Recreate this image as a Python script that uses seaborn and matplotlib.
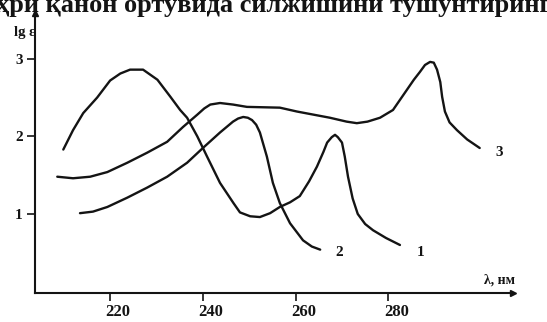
import pandas as pd
import matplotlib
matplotlib.use("Agg")
import matplotlib.pyplot as plt
import matplotlib.transforms as mtransforms
import seaborn as sns

# UV absorption curves (wavelength, nm -> lg eps)
wl1 = [209.9, 212.0, 214.2, 217.2, 220.0, 222.2, 224.3, 227.1, 230.2, 233.0, 235.1, 236.6,
       238.8, 240.9, 243.7, 246.6, 248.0, 250.2, 252.3, 254.5, 256.6, 258.8, 260.9, 262.9,
       264.6, 266.0, 266.8, 267.8, 268.5, 269.1, 270.0, 270.6, 271.3, 272.3, 273.4, 275.0,
       276.7, 279.5, 282.5]
lg1 = [1.83, 2.08, 2.30, 2.50, 2.72, 2.81, 2.86, 2.86, 2.73, 2.51, 2.34, 2.24,
       2.00, 1.74, 1.40, 1.14, 1.02, 0.97, 0.96, 1.01, 1.09, 1.15, 1.23, 1.42,
       1.61, 1.80, 1.92, 1.99, 2.02, 1.99, 1.92, 1.74, 1.48, 1.20, 1.00, 0.87,
       0.79, 0.69, 0.60]

wl2 = [213.5, 216.3, 219.4, 223.7, 228.0, 232.3, 236.6, 240.0, 243.7, 246.5, 247.6, 248.7,
       249.7, 250.6, 251.5, 252.3, 253.8, 255.1, 256.6, 258.8, 261.6, 263.5, 265.3]
lg2 = [1.01, 1.03, 1.09, 1.21, 1.34, 1.48, 1.66, 1.85, 2.05, 2.19, 2.23, 2.25,
       2.24, 2.21, 2.15, 2.05, 1.74, 1.40, 1.14, 0.88, 0.66, 0.58, 0.54]

wl3 = [208.6, 212.0, 215.7, 219.4, 223.7, 228.0, 232.3, 235.7, 238.8, 240.3, 241.6, 243.7,
       246.5, 249.5, 256.6, 260.3, 267.4, 271.0, 273.2, 275.5, 278.2, 281.0, 284.0, 285.5,
       286.8, 287.9, 289.0, 289.8, 290.5, 291.2, 291.6, 292.2, 293.2, 294.8, 297.0, 299.7]
lg3 = [1.48, 1.46, 1.48, 1.54, 1.66, 1.79, 1.93, 2.12, 2.28, 2.36, 2.41, 2.43,
       2.41, 2.38, 2.37, 2.32, 2.24, 2.19, 2.17, 2.19, 2.24, 2.34, 2.60, 2.73,
       2.83, 2.92, 2.96, 2.95, 2.86, 2.70, 2.51, 2.32, 2.18, 2.08, 1.96, 1.85]

curve_names = ["1", "2", "3"]
label_pos = {"1": (287.0, 0.50), "2": (269.5, 0.50), "3": (304.0, 1.79)}
xticks = [220, 240, 260, 280]
yticks = [1, 2, 3]

df = pd.concat([
    pd.DataFrame({"wl": wl1, "lg": lg1, "curve": "1"}),
    pd.DataFrame({"wl": wl2, "lg": lg2, "curve": "2"}),
    pd.DataFrame({"wl": wl3, "lg": lg3, "curve": "3"}),
])

sns.set_theme(style="white")
plt.rcParams['font.family'] = ['Liberation Serif', 'DejaVu Serif']

ink = "#141414"
fig = plt.figure(figsize=(5.47, 3.22), dpi=100)
ax = fig.add_axes([0.064, 0.091, 0.874, 0.8686])

sns.lineplot(data=df, x="wl", y="lg", hue="curve", palette=[ink] * 3, sort=False,
             estimator=None, legend=False, lw=1.7, solid_joinstyle="round",
             solid_capstyle="round", ax=ax)

ax.set_xlim(203.8, 306.9)
ax.set_ylim(-0.015, 3.59)
ax.set_xlabel("")
ax.set_ylabel("")

for side in ["top", "right"]:
    ax.spines[side].set_visible(False)
for side in ["left", "bottom"]:
    ax.spines[side].set_color(ink)
    ax.spines[side].set_linewidth(1.5)

ax.set_xticks(xticks)
ax.set_yticks(yticks)
ax.tick_params(axis="both", direction="out", length=6, width=1.2, color=ink,
               labelcolor=ink, bottom=True, left=True)
ax.tick_params(axis="x", labelsize=12, pad=2)
ax.tick_params(axis="y", labelsize=11, pad=3)
for lab in ax.get_xticklabels():
    lab.set_fontweight("bold")
    lab.set_transform(lab.get_transform() + mtransforms.ScaledTranslation(0.08, 0, fig.dpi_scale_trans))
for lab in ax.get_yticklabels():
    lab.set_fontweight("bold")

# arrow heads on the axes
ax.plot(1, 0, ">", color=ink, ms=5, transform=ax.transAxes, clip_on=False)
ax.plot(0, 1, "^", color=ink, ms=4, transform=ax.transAxes, clip_on=False)

for name in curve_names:
    x, y = label_pos[name]
    ax.text(x, y, name, fontsize=11, fontweight="bold", color=ink, ha="center", va="center")

ax.text(304.0, 0.15, "λ, нм", fontsize=10, fontweight="bold", color=ink, ha="center", va="center")
fig.text(0.046, 0.898, "lg ε", fontsize=10.5, fontweight="bold", color=ink, ha="center", va="center")

# cut-off line of book text above the figure
fig.text(0.5, 1 - 12 / 322, "ҳри қанон ортувида силжишини тушунтиринг", fontsize=19,
         fontweight="bold", color=ink, ha="center", va="baseline")

fig.savefig("out.png", dpi=100, facecolor="white")
